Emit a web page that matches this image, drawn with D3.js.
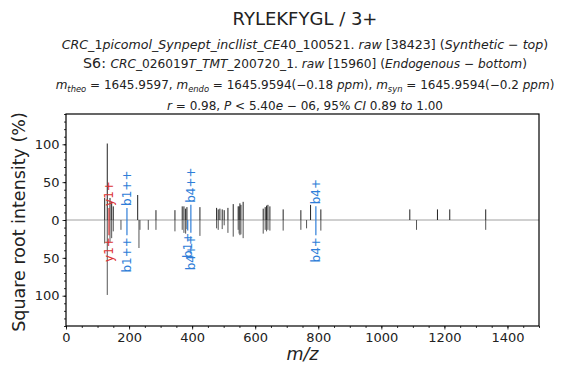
<!DOCTYPE html>
<html>
<head>
<meta charset="utf-8">
<script src="https://cdn.jsdelivr.net/npm/d3@7"></script>
<style>
  body { margin: 0; background: #fff; }
  text { font-family: "DejaVu Sans", sans-serif; fill: #222; }
</style>
</head>
<body>
<script>
// synthetic spectrum (top): [m/z, sqrt intensity %]
var synPeaks = [
    [122.7, 29], [130.9, 101], [139.5, 29], [144.8, 24], [149.9, 18],
    [227.3, 33], [285.3, 13], [345.5, 13], [368.6, 18], [374.0, 18],
    [379.4, 15], [383.5, 17], [424.7, 17], [477.6, 16], [482.7, 14],
    [488.0, 15], [495.4, 14], [501.7, 13], [513.5, 16], [530.3, 21],
    [546.0, 18], [549.0, 18], [551.5, 22], [554.7, 20], [561.8, 24],
    [625.4, 15], [631.7, 17], [636.0, 19], [640.3, 20], [646.6, 18],
    [688.7, 14], [744.8, 13], [775.6, 20], [808.2, 14],
    [1090.3, 14], [1178.0, 14], [1217.0, 14], [1331.0, 14] ];

// endogenous spectrum (bottom)
var endoPeaks = [
    [122.7, 31], [130.9, 99], [139.5, 29], [144.8, 24], [149.9, 15],
    [174.3, 13], [231.4, 37], [234.5, 13], [260.9, 13], [285.3, 13],
    [345.5, 15], [368.6, 13], [374.0, 17], [379.4, 18], [383.5, 12],
    [424.7, 21], [477.6, 11], [482.7, 13], [495.4, 12], [501.7, 7],
    [513.5, 17], [530.3, 22], [546.0, 13], [549.0, 18], [551.5, 20],
    [554.7, 19], [561.8, 24], [625.4, 18], [631.7, 13], [636.0, 15],
    [640.3, 13], [646.6, 14], [688.7, 14], [744.8, 13], [762.9, 11],
    [808.2, 14], [1111.6, 13], [1331.0, 13] ];

// annotated fragment ions: [label, m/z, intensity, type]
var synAnnot = [
    ["y1+", 136.3, 16, "y"], ["b1++", 193.3, 16, "b"],
    ["b4++", 396.0, 20, "b"], ["b4+", 792.4, 18, "b"] ];
var endoAnnot = [
    ["y1+", 136.3, 20, "y"], ["b1++", 193.3, 20, "b"],
    ["b1+", 386.0, 14, "b"], ["b4++", 396.0, 17, "b"], ["b4+", 792.4, 20, "b"] ];

var xTicks = [0, 200, 400, 600, 800, 1000, 1200, 1400];
var yTicks = [-100, -50, 0, 50, 100];

var w = 570, h = 368;
var padL = 66, padR = 539, padT = 114, padB = 326;
var ionColor = { b: "#2f7ed8", y: "#dc3232" };

var svg = d3.select("body").append("svg")
    .attr("width", w)
    .attr("height", h);

var x = d3.scaleLinear().domain([0, 1500]).range([padL, padR]);
var y = d3.scaleLinear().domain([-140, 140]).range([padB, padT]);

// axes with minor ticks
var xMinor = d3.axisBottom(x).tickValues(d3.range(0, 1501, 50)).tickSize(2).tickFormat("");
var xAxis = d3.axisBottom(x).tickValues(xTicks).tickSize(3.5).tickPadding(3)
    .tickFormat(d3.format("d"));
var yMinor = d3.axisLeft(y).tickValues(d3.range(-140, 141, 10)).tickSize(2).tickFormat("");
var yAxis = d3.axisLeft(y).tickValues(yTicks).tickSize(3.5).tickPadding(3)
    .tickFormat(function(d) { return Math.abs(d); });

[xMinor, xAxis].forEach(function(a) {
    svg.append("g").attr("transform", "translate(0," + padB + ")").call(a);
});
[yMinor, yAxis].forEach(function(a) {
    svg.append("g").attr("transform", "translate(" + padL + ",0)").call(a);
});
svg.selectAll(".domain").remove();
svg.selectAll(".tick line").attr("stroke", "#000").attr("stroke-width", 0.8);
svg.selectAll(".tick text")
    .attr("font-size", "13px")
    .attr("font-family", "DejaVu Sans")
    .attr("fill", "#222");

// zero line
svg.append("line")
    .attr("x1", padL).attr("x2", padR)
    .attr("y1", y(0)).attr("y2", y(0))
    .attr("stroke", "#a0a0a0")
    .attr("stroke-width", 1);

// peaks
svg.selectAll("line.syn")
    .data(synPeaks)
    .enter()
    .append("line")
    .attr("class", "syn")
    .attr("x1", function(d) { return x(d[0]); })
    .attr("x2", function(d) { return x(d[0]); })
    .attr("y1", y(0))
    .attr("y2", function(d) { return y(d[1]); })
    .attr("stroke", "#222")
    .attr("stroke-width", 1);

svg.selectAll("line.endo")
    .data(endoPeaks)
    .enter()
    .append("line")
    .attr("class", "endo")
    .attr("x1", function(d) { return x(d[0]); })
    .attr("x2", function(d) { return x(d[0]); })
    .attr("y1", y(0))
    .attr("y2", function(d) { return y(-d[1]); })
    .attr("stroke", "#555")
    .attr("stroke-width", 1);

// annotated peaks and labels
function drawAnnot(data, sign, cls) {
    svg.selectAll("line." + cls)
        .data(data)
        .enter()
        .append("line")
        .attr("class", cls)
        .attr("x1", function(d) { return x(d[1]); })
        .attr("x2", function(d) { return x(d[1]); })
        .attr("y1", y(0))
        .attr("y2", function(d) { return y(sign * d[2]); })
        .attr("stroke", function(d) { return ionColor[d[3]]; })
        .attr("stroke-width", 1.2);

    svg.selectAll("text." + cls)
        .data(data)
        .enter()
        .append("text")
        .attr("class", cls)
        .attr("transform", function(d) {
            var ty = y(sign * d[2]) - sign * 2;
            return "translate(" + (x(d[1]) + 4.5) + "," + ty + ") rotate(-90)";
        })
        .attr("text-anchor", sign > 0 ? "start" : "end")
        .attr("font-size", "12px")
        .style("fill", function(d) { return ionColor[d[3]]; })
        .text(function(d) { return d[0]; });
}
drawAnnot(synAnnot, 1, "asyn");
drawAnnot(endoAnnot, -1, "aendo");

// frame
svg.append("rect")
    .attr("x", padL).attr("y", padT)
    .attr("width", padR - padL).attr("height", padB - padT)
    .attr("fill", "none")
    .attr("stroke", "#000")
    .attr("stroke-width", 1.2);

// axis labels
svg.append("text")
    .attr("text-anchor", "middle")
    .attr("x", (padL + padR) / 2)
    .attr("y", 360)
    .attr("font-size", "17.5px")
    .attr("font-style", "italic")
    .text("m/z");

svg.append("text")
    .attr("text-anchor", "middle")
    .attr("transform", "rotate(-90)")
    .attr("x", -222)
    .attr("y", 25)
    .attr("font-size", "17.5px")
    .text("Square root intensity (%)");

// titles
var cx = 305;
svg.append("text")
    .attr("text-anchor", "middle")
    .attr("x", cx).attr("y", 25)
    .attr("font-size", "18px")
    .text("RYLEKFYGL / 3+");

function mathLine(parts, yy, size) {
    var t = svg.append("text")
        .attr("text-anchor", "middle")
        .attr("x", cx).attr("y", yy)
        .attr("font-size", size + "px");
    parts.forEach(function(p) {
        var s = t.append("tspan").text(p[0]);
        if (p[1] == "i") s.attr("font-style", "italic");
        if (p[1] == "sub") s.attr("font-style", "italic").attr("font-size", (size * 0.7) + "px").attr("dy", 3);
        if (p[1] == "up") s.attr("dy", -3);
        if (p[1] == "big") s.attr("font-size", (size + 2) + "px");
    });
}

mathLine([["CRC_", "i"], ["1", ""], ["picomol_Synpept_incllist_CE", "i"], ["40_100521", ""],
    [". ", ""], ["raw", "i"], [" [38423] (", ""], ["Synthetic", "i"], ["  \u2212  ", ""],
    ["top", "i"], [")", ""]], 49, 12.6);
mathLine([["S6: ", "big"], ["CRC_", "i"], ["026019", ""], ["T_TMT_", "i"], ["200720_1", ""],
    [". ", ""], ["raw", "i"], [" [15960] (", ""], ["Endogenous", "i"], ["  \u2212  ", ""],
    ["bottom", "i"], [")", ""]], 68, 12.2);
mathLine([["m", "i"], ["theo", "sub"], [" = 1645.9597, ", "up"], ["m", "i"], ["endo", "sub"],
    [" = 1645.9594(\u22120.18 ", "up"], ["ppm", "i"], ["), ", ""], ["m", "i"], ["syn", "sub"],
    [" = 1645.9594(\u22120.2 ", "up"], ["ppm", "i"], [")", ""]], 89, 12);
mathLine([["r", "i"], [" = 0.98,  ", ""], ["P", "i"], [" < 5.40", ""], ["e", "i"],
    [" \u2212 06,  95% ", ""], ["CI", "i"], [" 0.89 ", ""], ["to", "i"], [" 1.00", ""]], 110, 12);
</script>
</body>
</html>
